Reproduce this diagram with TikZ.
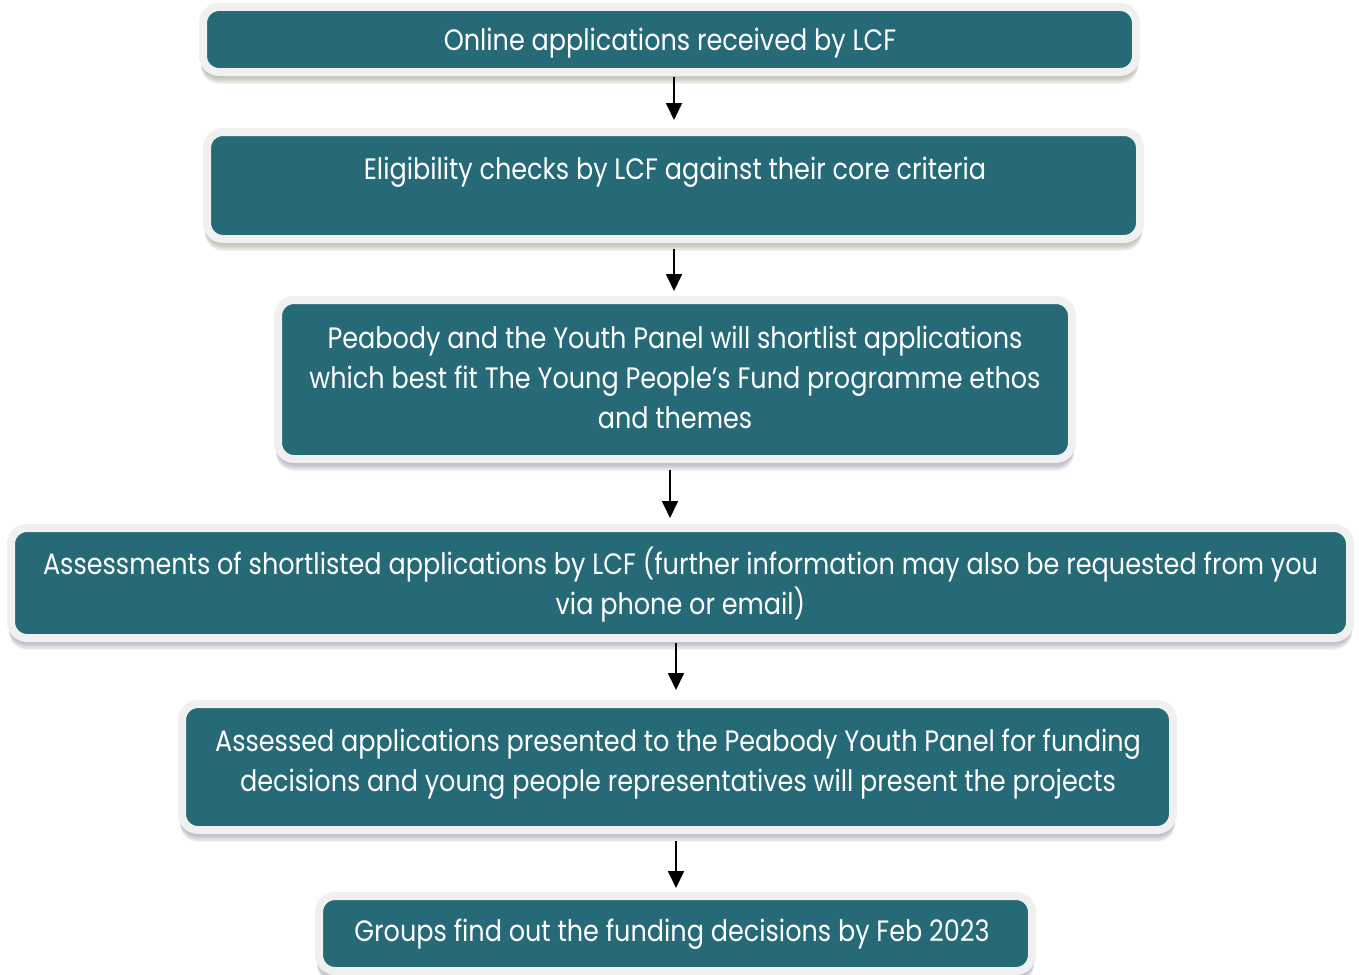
\documentclass[tikz,border=0pt]{standalone}
\usepackage{fontspec}
\setmainfont{Poppins}[FakeStretch=0.865]
\usetikzlibrary{arrows.meta}
\definecolor{tealbox}{HTML}{266A77}
\definecolor{rimgray}{HTML}{F0F0F0}
\definecolor{shadowA}{HTML}{8A9878}
\definecolor{shadowB}{HTML}{8E86A2}
\tikzset{
  boxst/.style={draw=rimgray, line width=8pt, fill=tealbox, rounded corners=16pt,
    inner sep=0pt, outer sep=4pt},
  txt/.style={text=white, font=\fontsize{29.5}{40}\selectfont, anchor=base, inner sep=0pt},
  arr/.style={-{Triangle[width=16pt,length=17pt]}, line width=1.8pt, black},
}
\newcommand{\flowbox}[6]{%
  \foreach \s in {1,...,6}{
    \fill[#6, opacity=0.12, rounded corners=18pt] (#2+2,#3+\s) rectangle (#4-2,#5+\s*1.3);
  }
  \node[boxst, minimum width={#4-#2-8}, minimum height={#5-#3-8}] (#1) at ({(#2+#4)/2},{(#3+#5)/2}) {};
}
\begin{document}
\begin{tikzpicture}[x=1pt,y=-1pt]
\useasboundingbox[fill=white] (0,0) rectangle (1359,974);

\flowbox{b1}{199}{3}{1140}{76}{shadowA}
\flowbox{b2}{203}{128}{1144}{243}{shadowA}
\flowbox{b3}{274}{296}{1076}{463}{shadowB}
\flowbox{b4}{7}{524}{1354}{642}{shadowB}
\flowbox{b5}{178}{700}{1177}{834}{shadowB}
\flowbox{b6}{315}{892}{1036}{975}{shadowB}

\node[txt] (t1) at (670,51) {Online applications received by LCF};
\node[txt] (t2) at (675,179) {Eligibility checks by LCF against their core criteria};
\node[txt] (t3a) at (675,348) {Peabody and the Youth Panel will shortlist applications};
\node[txt] (t3b) at (675,388) {which best fit The Young People’s Fund programme ethos};
\node[txt] (t3c) at (675,428) {and themes};
\node[txt] (t4a) at (680.5,574) {Assessments of shortlisted applications by LCF (further information may also be requested from you};
\node[txt] (t4b) at (680.5,614) {via phone or email)};
\node[txt] (t5a) at (678,751) {Assessed applications presented to the Peabody Youth Panel for funding};
\node[txt] (t5b) at (678,791) {decisions and young people representatives will present the projects};
\node[txt] (t6) at (672,941) {Groups find out the funding decisions by Feb 2023};

\coordinate (xa) at (674,0);
\coordinate (xb) at (670,0);
\coordinate (xc) at (676,0);
\draw[arr, shorten <=1pt, shorten >=8pt] (b1.south -| xa) -- (b2.north -| xa);
\draw[arr, shorten <=6pt, shorten >=5pt] (b2.south -| xa) -- (b3.north -| xa);
\draw[arr, shorten <=7pt, shorten >=6pt] (b3.south -| xb) -- (b4.north -| xb);
\draw[arr, shorten <=1pt, shorten >=10pt] (b4.south -| xc) -- (b5.north -| xc);
\draw[arr, shorten <=7pt, shorten >=4pt] (b5.south -| xc) -- (b6.north -| xc);
\end{tikzpicture}
\end{document}
